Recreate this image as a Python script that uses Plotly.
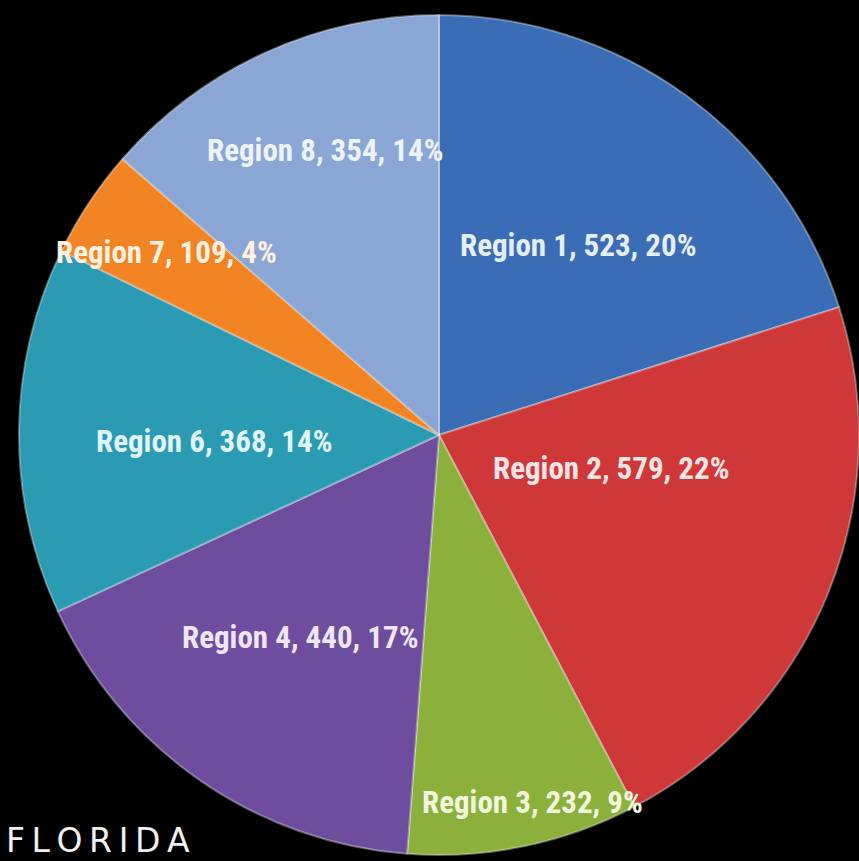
import plotly.graph_objects as go

# Data
regions = ["Region 1", "Region 2", "Region 3", "Region 4", "Region 6", "Region 7", "Region 8"]
values = [523, 579, 232, 440, 368, 109, 354]
colors = ["#3A6DB5", "#CF3838", "#8BB13C", "#6E4D9E", "#2B9BB4", "#F28423", "#8AA6D4"]
text_colors = ["#E6EEFB", "#FBE4E4", "#F2F8DC", "#EEE6FA", "#E0F6FB", "#FFF0E0", "#EEF3FB"]

# label centres in pixels (layout only)
label_px = [(578, 245), (611, 468), (532, 802), (300, 637), (214, 441), (166, 252), (325, 150)]

W, H = 859, 861
total = sum(values)

fig = go.Figure()
fig.add_trace(go.Pie(
    labels=regions,
    values=values,
    sort=False,
    direction="clockwise",
    rotation=0,
    textinfo="none",
    hoverinfo="label+value+percent",
    marker=dict(colors=colors, line=dict(color="rgba(255,255,255,0.35)", width=2)),
    domain=dict(x=[19 / W, 1.0], y=[1 - 855 / H, 1 - 15 / H]),
    showlegend=False,
))

annotations = []
for name, v, (px, py), tc in zip(regions, values, label_px, text_colors):
    pct = round(100 * v / total)
    annotations.append(dict(
        x=px / W, y=1 - py / H, xref="paper", yref="paper",
        xanchor="center", yanchor="middle", showarrow=False,
        text=f"<b>{name}, {v}, {pct}%</b>",
        font=dict(family="Liberation Sans Narrow, Roboto Condensed, Arial Narrow, sans-serif",
                  size=31, color=tc),
    ))

annotations.append(dict(
    x=4 / W, y=1 - 840 / H, xref="paper", yref="paper",
    xanchor="left", yanchor="middle", showarrow=False,
    text="F\u2009L\u2009O\u2009R\u2009I\u2009D\u2009A",
    font=dict(family="DejaVu Sans", size=33, color="#F0F0F0"),
))

fig.update_layout(
    width=W, height=H,
    margin=dict(l=0, r=0, t=0, b=0),
    paper_bgcolor="black",
    plot_bgcolor="black",
    annotations=annotations,
)

fig.write_html("out.html")
